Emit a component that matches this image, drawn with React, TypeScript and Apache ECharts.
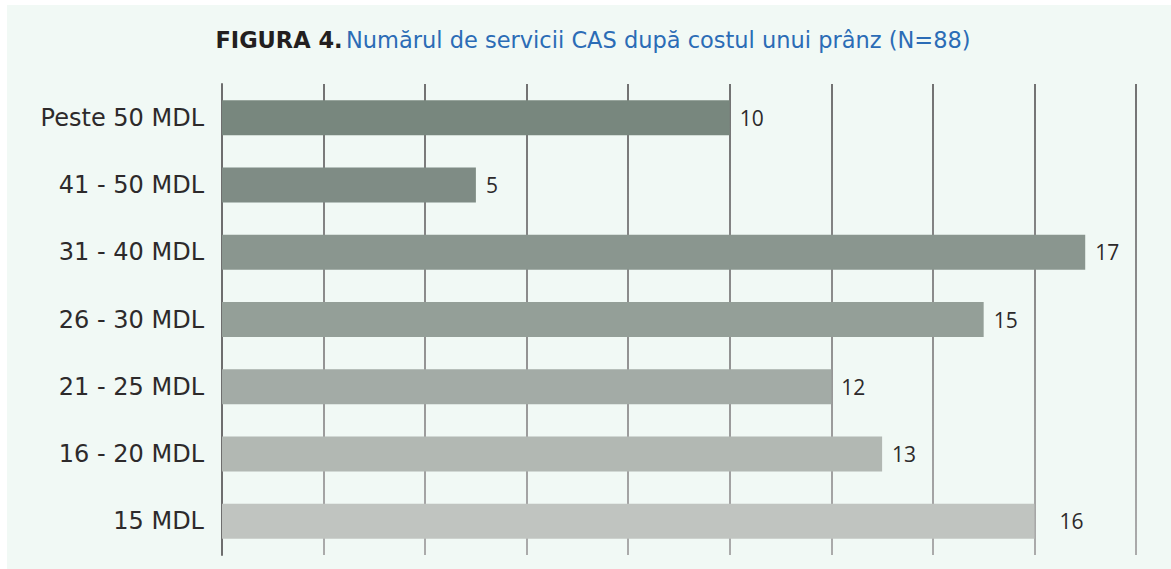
import React, { useEffect, useRef } from "react";
import * as echarts from "echarts";

const categories = ["Peste 50 MDL", "41 - 50 MDL", "31 - 40 MDL", "26 - 30 MDL", "21 - 25 MDL", "16 - 20 MDL", "15 MDL"];
const values = [10, 5, 17, 15, 12, 13, 16];
const barColors = ["#78877e", "#7f8c85", "#8a968f", "#949f98", "#a3aba6", "#b2b8b3", "#c0c4c0"];
const labelDistances = [10, 10, 10, 10, 10, 10, 25];

const FONT = "'DejaVu Sans', sans-serif";
const NUMFONT = "'Open Sans', sans-serif";

export default function App() {
  const ref = useRef<HTMLDivElement>(null);
  useEffect(() => {
    if (!ref.current) return;
    const chart = echarts.init(ref.current, null, { renderer: "svg" });
    const gridGrad = new echarts.graphic.LinearGradient(
      0, 82, 0, 555,
      [
        { offset: 0, color: "#727272" },
        { offset: 1, color: "#ababab" },
      ],
      true
    );
    chart.setOption({
      animation: false,
      backgroundColor: "#ffffff",
      graphic: [
        {
          type: "rect",
          z: -10,
          silent: true,
          shape: { x: 7, y: 5, width: 1164, height: 564 },
          style: { fill: "#f1f9f5" },
        },
        {
          type: "text",
          x: 593,
          y: 40,
          style: {
            text: "{a|FIGURA 4.} {b|Numărul de servicii CAS după costul unui prânz (N=88)}",
            align: "center",
            verticalAlign: "middle",
            rich: {
              a: { fontFamily: FONT, fontWeight: "bold", fontSize: 22.5, fill: "#231f20" },
              b: { fontFamily: FONT, fontSize: 22.5, fill: "#2b6cb6" },
            },
          },
        },
      ],
      grid: { left: 222, right: 35, top: 84, bottom: 14, containLabel: false },
      xAxis: {
        type: "value",
        min: 0,
        max: 18,
        interval: 2,
        axisLabel: { show: false },
        axisLine: { show: false },
        axisTick: { show: false },
        splitLine: { show: true, lineStyle: { color: gridGrad, width: 2 } },
      },
      yAxis: {
        type: "category",
        inverse: true,
        data: categories,
        axisLine: { show: true, lineStyle: { color: "#6e6e6e", width: 2 } },
        axisTick: { show: false },
        axisLabel: {
          margin: 18,
          fontFamily: FONT,
          fontSize: 24,
          color: "#2d2a2b",
        },
      },
      series: [
        {
          type: "bar",
          barWidth: 35,
          z: 3,
          data: values.map((v, i) => ({
            value: v,
            itemStyle: { color: barColors[i] },
            label: { distance: labelDistances[i] },
          })),
          label: {
            show: true,
            position: "right",
            fontFamily: NUMFONT,
            fontSize: 21,
            color: "#2d2a2b",
          },
        },
      ],
    });
    return () => chart.dispose();
  }, []);
  return (
    <div
      ref={ref}
      style={{ position: "fixed", left: 0, top: 0, width: 1171, height: 569 }}
    />
  );
}
